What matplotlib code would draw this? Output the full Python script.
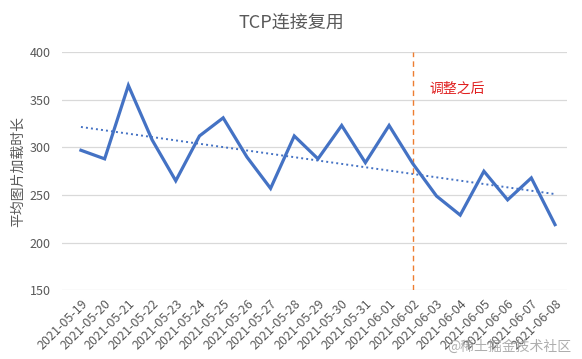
import numpy as np
import matplotlib.pyplot as plt

plt.rcParams['font.family'] = ['Noto Sans CJK SC', 'DejaVu Sans']

dates = ['2021-05-19', '2021-05-20', '2021-05-21', '2021-05-22', '2021-05-23',
         '2021-05-24', '2021-05-25', '2021-05-26', '2021-05-27', '2021-05-28',
         '2021-05-29', '2021-05-30', '2021-05-31', '2021-06-01', '2021-06-02',
         '2021-06-03', '2021-06-04', '2021-06-05', '2021-06-06', '2021-06-07',
         '2021-06-08']
load_time = [297, 288, 365, 308, 265, 312, 331, 290, 257, 312,
             288, 323, 284, 323, 283, 249, 229, 275, 245, 268, 219]
change_date = '2021-06-02'

x = np.arange(len(dates))
k, b = np.polyfit(x, load_time, 1)

fig = plt.figure(figsize=(5.82, 3.59), dpi=100)
ax = fig.add_axes([0.1065, 0.191, 0.8675, 0.664])

ax.plot(x, load_time, color='#4472C4', lw=2.3, solid_joinstyle='miter', zorder=3)
ax.plot(x, k * x + b, color='#4472C4', lw=1.4, ls=(0, (1, 1.6)), zorder=2)

xc = dates.index(change_date)
ax.vlines(xc, 150, 400, color='#ED7D31', lw=1.0, ls=(0, (4, 3)), zorder=2)
ax.text(xc + 0.7, 361, '调整之后', color='#E02020', fontsize=10, va='center')

ax.set_xlim(-0.8, 20.5)
ax.set_ylim(150, 400)
ax.set_yticks([150, 200, 250, 300, 350, 400])
ax.set_xticks(x)
ax.set_xticklabels(dates, rotation=45, ha='right', rotation_mode='anchor')
ax.grid(axis='y', color='#D9D9D9', lw=0.9)
ax.set_axisbelow(True)
for s in ax.spines.values():
    s.set_visible(False)
ax.tick_params(length=0, colors='#595959', labelsize=9)
ax.tick_params(axis='x', pad=5)
ax.tick_params(axis='y', pad=8)

ax.set_ylabel('平均图片加载时长', color='#595959', fontsize=10)
ax.yaxis.set_label_coords(-0.073, 0.5)
fig.text(0.5, 0.938, 'TCP连接复用', color='#595959', fontsize=13,
         ha='center', va='center')

fig.text(0.982, 0.035, '@稀土掘金技术社区', color='#9a9a9a', fontsize=10,
         ha='right', va='center', alpha=0.8)

fig.savefig('out.png', dpi=100)
